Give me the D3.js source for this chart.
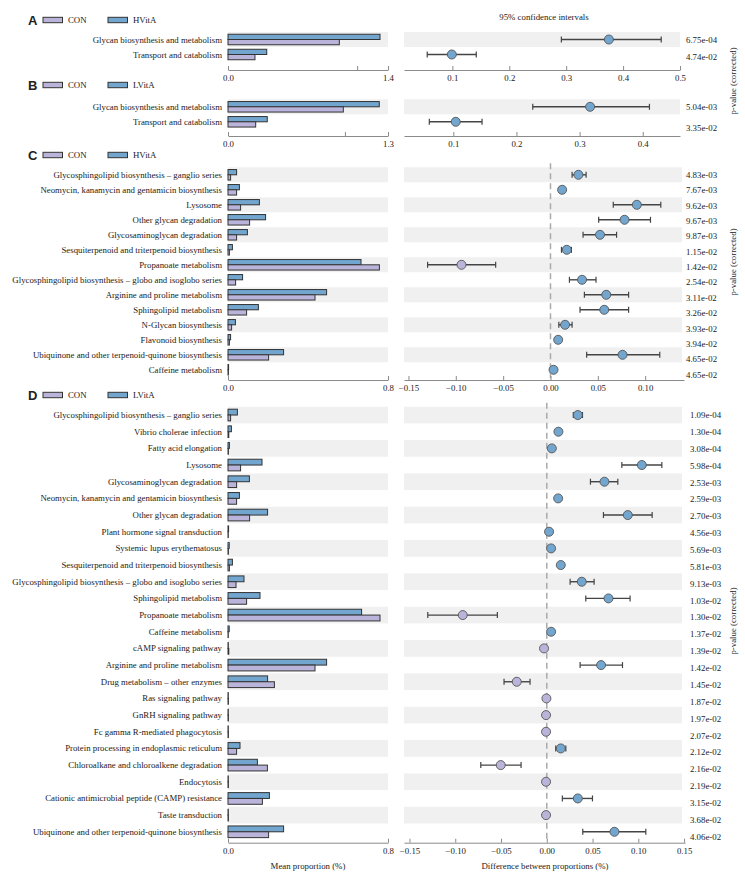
<!DOCTYPE html>
<html><head><meta charset="utf-8">
<script src="https://cdn.jsdelivr.net/npm/d3@7"></script>
<style>
body{margin:0;background:#fff}
svg{display:block}
text{font-family:"Liberation Serif","Times New Roman",serif;fill:#222}
</style>
</head><body><svg id="c" width="745" height="878"></svg>
<script>
// ---------- DATA ----------
const groupsA = ["CON","HVitA"];
const catsA = ["Glycan biosynthesis and metabolism","Transport and catabolism"];
const conA = [0.974, 0.236];
const trtA = [1.33, 0.339];
const diffA = [0.375, 0.099];
const lowA = [0.2915, 0.0558];
const highA = [0.467, 0.142];
const pA = ["6.75e-04","4.74e-02"];

const groupsB = ["CON","LVitA"];
const catsB = ["Glycan biosynthesis and metabolism","Transport and catabolism"];
const conB = [0.937, 0.225];
const trtB = [1.229, 0.319];
const diffB = [0.3166, 0.1038];
const lowB = [0.2258, 0.062];
const highB = [0.4106, 0.1455];
const pB = ["5.04e-03","3.35e-02"];

const groupsC = ["CON","HVitA"];
const catsC = ["Glycosphingolipid biosynthesis \u2013 ganglio series","Neomycin, kanamycin and gentamicin biosynthesis","Lysosome","Other glycan degradation","Glycosaminoglycan degradation","Sesquiterpenoid and triterpenoid biosynthesis","Propanoate metabolism","Glycosphingolipid biosynthesis \u2013 globo and isoglobo series","Arginine and proline metabolism","Sphingolipid metabolism","N-Glycan biosynthesis","Flavonoid biosynthesis","Ubiquinone and other terpenoid-quinone biosynthesis","Caffeine metabolism"];
const conC = [0.013,0.043,0.063,0.108,0.043,0.007,0.757,0.038,0.435,0.093,0.018,0.007,0.203,0.002];
const trtC = [0.043,0.057,0.157,0.188,0.097,0.022,0.665,0.073,0.493,0.152,0.037,0.013,0.278,0.003];
const diffC = [0.0295,0.0123,0.0912,0.0782,0.0523,0.0172,-0.094,0.0333,0.0589,0.0568,0.0154,0.0081,0.0761,0.0032];
const lowC = [0.0228,0.0103,0.0663,0.0509,0.0344,0.0116,-0.1298,0.02,0.0358,0.0312,0.0088,0.0065,0.0382,0.0022];
const highC = [0.0376,0.0143,0.1165,0.1056,0.0698,0.0221,-0.0579,0.0481,0.0825,0.0825,0.0228,0.0097,0.1154,0.0042];
const pC = ["4.83e-03","7.67e-03","9.62e-03","9.67e-03","9.87e-03","1.15e-02","1.42e-02","2.54e-02","3.11e-02","3.26e-02","3.93e-02","3.94e-02","4.65e-02","4.65e-02"];

const groupsD = ["CON","LVitA"];
const catsD = ["Glycosphingolipid biosynthesis \u2013 ganglio series","Vibrio cholerae infection","Fatty acid elongation","Lysosome","Glycosaminoglycan degradation","Neomycin, kanamycin and gentamicin biosynthesis","Other glycan degradation","Plant hormone signal transduction","Systemic lupus erythematosus","Sesquiterpenoid and triterpenoid biosynthesis","Glycosphingolipid biosynthesis \u2013 globo and isoglobo series","Sphingolipid metabolism","Propanoate metabolism","Caffeine metabolism","cAMP signaling pathway","Arginine and proline metabolism","Drug metabolism \u2013 other enzymes","Ras signaling pathway","GnRH signaling pathway","Fc gamma R-mediated phagocytosis","Protein processing in endoplasmic reticulum","Chloroalkane and chloroalkene degradation","Endocytosis","Cationic antimicrobial peptide (CAMP) resistance","Taste transduction","Ubiquinone and other terpenoid-quinone biosynthesis"];
const conD = [0.013,0.004,0.002,0.063,0.043,0.043,0.108,0.001,0.002,0.007,0.04,0.093,0.76,0.001,0.004,0.435,0.232,0.002,0.002,0.002,0.043,0.197,0.002,0.172,0.002,0.203];
const trtD = [0.047,0.017,0.007,0.17,0.107,0.057,0.198,0.003,0.006,0.022,0.08,0.16,0.668,0.006,0.001,0.493,0.198,0.001,0.001,0.001,0.06,0.147,0.001,0.207,0.001,0.278];
const diffD = [0.0339,0.0127,0.0055,0.1038,0.063,0.0124,0.0885,0.0025,0.0047,0.0153,0.0382,0.0674,-0.0918,0.0047,-0.003,0.0593,-0.0328,-0.0004,-0.0008,-0.0008,0.0153,-0.0503,-0.0008,0.0339,-0.0008,0.0739];
const lowD = [0.029,0.0112,0.0043,0.082,0.0477,0.0108,0.0619,0.0017,0.0037,0.0133,0.0255,0.0426,-0.13,0.0037,-0.004,0.0364,-0.0467,-0.0006,-0.001,-0.001,0.0098,-0.0721,-0.001,0.017,-0.001,0.0393];
const highD = [0.039,0.0142,0.0067,0.1257,0.0776,0.014,0.1151,0.0033,0.0057,0.0173,0.0517,0.091,-0.054,0.0057,-0.002,0.0827,-0.0183,-0.0002,-0.0006,-0.0006,0.0208,-0.0281,-0.0006,0.0499,-0.0006,0.1082];
const pD = ["1.09e-04","1.30e-04","3.08e-04","5.98e-04","2.53e-03","2.59e-03","2.70e-03","4.56e-03","5.69e-03","5.81e-03","9.13e-03","1.03e-02","1.30e-02","1.37e-02","1.39e-02","1.42e-02","1.45e-02","1.87e-02","1.97e-02","2.07e-02","2.12e-02","2.16e-02","2.19e-02","3.15e-02","3.68e-02","4.06e-02"];

const leftTicksA = [0, 1.13, 1.4];
const leftTicksB = [0, 0.95, 1.3];
const leftTicksC = [0, 0.8];
const leftTicksD = [0, 0.8];
const rightTicksA = [0.1,0.2,0.3,0.4,0.5];
const rightTicksB = [0.1,0.2,0.3,0.4];
const rightTicksC = [-0.15,-0.10,-0.05,0,0.05,0.10];
const rightTicksD = [-0.15,-0.10,-0.05,0,0.05,0.10,0.15];

// ---------- STYLE / LAYOUT ----------
const COL_CON = "#bab4da", COL_TRT = "#72a6cf";
const BAND = "#f0f0f0", DARK = "#333", AXIS = "#8a8a8a";
const FS = 8.8;
const L0 = 228, L1 = 388, R0 = 404;

const panels = [
 {letter:"A", groups:groupsA, cats:catsA, con:conA, trt:trtA, diff:diffA, low:lowA, high:highA, p:pA,
  legendY:20, top:32, rowH:15, axisY:70, leftMax:1.4, leftTicks:leftTicksA, rDom:[0.015,0.5], rEnd:680, rTicks:rightTicksA, fmt:".1f", zero:false, pX:686, pShift:2},
 {letter:"B", groups:groupsB, cats:catsB, con:conB, trt:trtB, diff:diffB, low:lowB, high:highB, p:pB,
  legendY:85, top:99.3, rowH:15, axisY:136, leftMax:1.3, leftTicks:leftTicksB, rDom:[0.0219,0.459], rEnd:680, rTicks:rightTicksB, fmt:".1f", zero:false, pX:686, pShift:6},
 {letter:"C", groups:groupsC, cats:catsC, con:conC, trt:trtC, diff:diffC, low:lowC, high:highC, p:pC,
  legendY:155, top:167.3, rowH:15, axisY:380, leftMax:0.8, leftTicks:leftTicksC, rDom:[-0.1547,0.141], rEnd:684, rTicks:rightTicksC, fmt:".2f", zero:true, pX:686, pShift:5},
 {letter:"D", groups:groupsD, cats:catsD, con:conD, trt:trtD, diff:diffD, low:lowD, high:highD, p:pD,
  legendY:395, top:406.7, rowH:16.67, axisY:842.7, leftMax:0.8, leftTicks:leftTicksD, rDom:[-0.156,0.151], rEnd:685, rTicks:rightTicksD, fmt:".2f", zero:true, pX:690, pShift:5}
];

const svg = d3.select("#c");

panels.forEach(P => {
  const g = svg.append("g");
  const n = P.cats.length;
  const y = d3.scaleBand().domain(d3.range(n)).range([P.top, P.top + n*P.rowH]).padding(0);
  const xl = d3.scaleLinear().domain([0, P.leftMax]).range([L0, L1]);
  const xr = d3.scaleLinear().domain(P.rDom).range([R0, P.rEnd]);
  const bh = P.rowH * 0.35;
  const cy = i => y(i) + y.bandwidth()/2;

  // legend
  g.append("text").attr("x", 28).attr("y", P.legendY).attr("dominant-baseline","central")
    .style("font-family","'Liberation Sans',Arial,sans-serif").style("font-weight","bold").style("font-size","13px").text(P.letter);
  [[43,68,COL_CON,P.groups[0]],[108,133,COL_TRT,P.groups[1]]].forEach(([rx,tx,c,t]) => {
    g.append("rect").attr("x",rx).attr("y",P.legendY-2.7).attr("width",19.5).attr("height",5.4)
      .attr("fill",c).attr("stroke",DARK).attr("stroke-width",1);
    g.append("text").attr("x",tx).attr("y",P.legendY).attr("dominant-baseline","central").style("font-size",FS+"px").text(t);
  });

  // bands
  const idx = d3.range(n);
  g.selectAll(".bl").data(idx.filter(i => i%2===0)).join("rect")
    .attr("x", L0).attr("width", L1-L0).attr("y", i=>y(i)).attr("height", y.bandwidth()).attr("fill", BAND);
  g.selectAll(".br").data(idx.filter(i => i%2===0)).join("rect")
    .attr("x", R0).attr("width", Math.min(P.rEnd,682)-R0).attr("y", i=>y(i)).attr("height", y.bandwidth()).attr("fill", BAND);

  // category labels
  g.selectAll(".lab").data(idx).join("text")
    .attr("x", 222).attr("y", i=>cy(i)).attr("text-anchor","end").attr("dominant-baseline","central")
    .style("font-size", FS+"px").text(i=>P.cats[i]);

  // bars
  g.selectAll(".bt").data(idx).join("rect")
    .attr("x", xl(0)).attr("y", i=>cy(i)-bh).attr("height", bh)
    .attr("width", i=>Math.max(0.3, xl(P.trt[i])-xl(0)))
    .attr("fill", COL_TRT).attr("stroke", DARK).attr("stroke-width", 1);
  g.selectAll(".bc").data(idx).join("rect")
    .attr("x", xl(0)).attr("y", i=>cy(i)).attr("height", bh)
    .attr("width", i=>Math.max(0.3, xl(P.con[i])-xl(0)))
    .attr("fill", COL_CON).attr("stroke", DARK).attr("stroke-width", 1);

  // left axis
  const lab = new Set([0, P.leftMax]);
  const la = g.append("g").attr("transform", `translate(0,${P.axisY})`)
    .call(d3.axisBottom(xl).tickValues(P.leftTicks).tickSizeInner(-4).tickSizeOuter(0).tickPadding(5)
      .tickFormat(d => lab.has(d) ? d3.format(".1f")(d) : ""));
  la.selectAll("path,line").attr("stroke", AXIS);
  la.selectAll("text").style("font-family","'Liberation Serif','Times New Roman',serif").style("font-size",FS+"px").attr("fill","#222");

  // zero line
  if (P.zero) {
    g.append("line").attr("x1", xr(0)).attr("x2", xr(0)).attr("y1", P.top-4).attr("y2", P.axisY-2)
      .attr("stroke", "#aaa").attr("stroke-width", 1.5).attr("stroke-dasharray", "6,4");
  }

  // CIs
  const ci = g.selectAll(".ci").data(idx).join("g");
  ci.append("line").attr("x1", i=>xr(P.low[i])).attr("x2", i=>xr(P.high[i]))
    .attr("y1", i=>cy(i)).attr("y2", i=>cy(i)).attr("stroke", "#444").attr("stroke-width", 1.4);
  ci.append("line").attr("x1", i=>xr(P.low[i])).attr("x2", i=>xr(P.low[i]))
    .attr("y1", i=>cy(i)-3).attr("y2", i=>cy(i)+3).attr("stroke", "#444").attr("stroke-width", 1.2);
  ci.append("line").attr("x1", i=>xr(P.high[i])).attr("x2", i=>xr(P.high[i]))
    .attr("y1", i=>cy(i)-3).attr("y2", i=>cy(i)+3).attr("stroke", "#444").attr("stroke-width", 1.2);
  ci.append("circle").attr("cx", i=>xr(P.diff[i])).attr("cy", i=>cy(i)).attr("r", 4.5)
    .attr("fill", i=>P.diff[i] > 0 ? COL_TRT : COL_CON).attr("stroke", "#555").attr("stroke-width", 0.9);

  // right axis
  const ra = g.append("g").attr("transform", `translate(0,${P.axisY})`)
    .call(d3.axisBottom(xr).tickValues(P.rTicks).tickSizeInner(-4).tickSizeOuter(0).tickPadding(5)
      .tickFormat(d3.format(P.fmt)));
  ra.selectAll("path,line").attr("stroke", AXIS);
  ra.selectAll("text").style("font-family","'Liberation Serif','Times New Roman',serif").style("font-size",FS+"px").attr("fill","#222");

  // p-values
  const py = d3.scaleLinear().domain([0, Math.max(1,n-1)]).range([cy(0), cy(n-1)+P.pShift]);
  g.selectAll(".pv").data(idx).join("text")
    .attr("x", P.pX).attr("y", i=>py(i)).attr("dominant-baseline","central")
    .style("font-size", FS+"px").text(i=>P.p[i]);
});

// titles
svg.append("text").attr("x", 544).attr("y", 17).attr("text-anchor","middle").attr("dominant-baseline","central")
  .style("font-size", FS+"px").text("95% confidence intervals");
[81, 262, 621].forEach(cyv => {
  svg.append("text").attr("transform", `translate(733,${cyv}) rotate(-90)`).attr("text-anchor","middle")
    .attr("dominant-baseline","central").style("font-size", FS+"px").text("p-value (corrected)");
});
svg.append("text").attr("x", 308).attr("y", 866).attr("text-anchor","middle").attr("dominant-baseline","central")
  .style("font-size", FS+"px").text("Mean proportion (%)");
svg.append("text").attr("x", 545).attr("y", 866).attr("text-anchor","middle").attr("dominant-baseline","central")
  .style("font-size", FS+"px").text("Difference between proportions (%)");
</script>
</body></html>
